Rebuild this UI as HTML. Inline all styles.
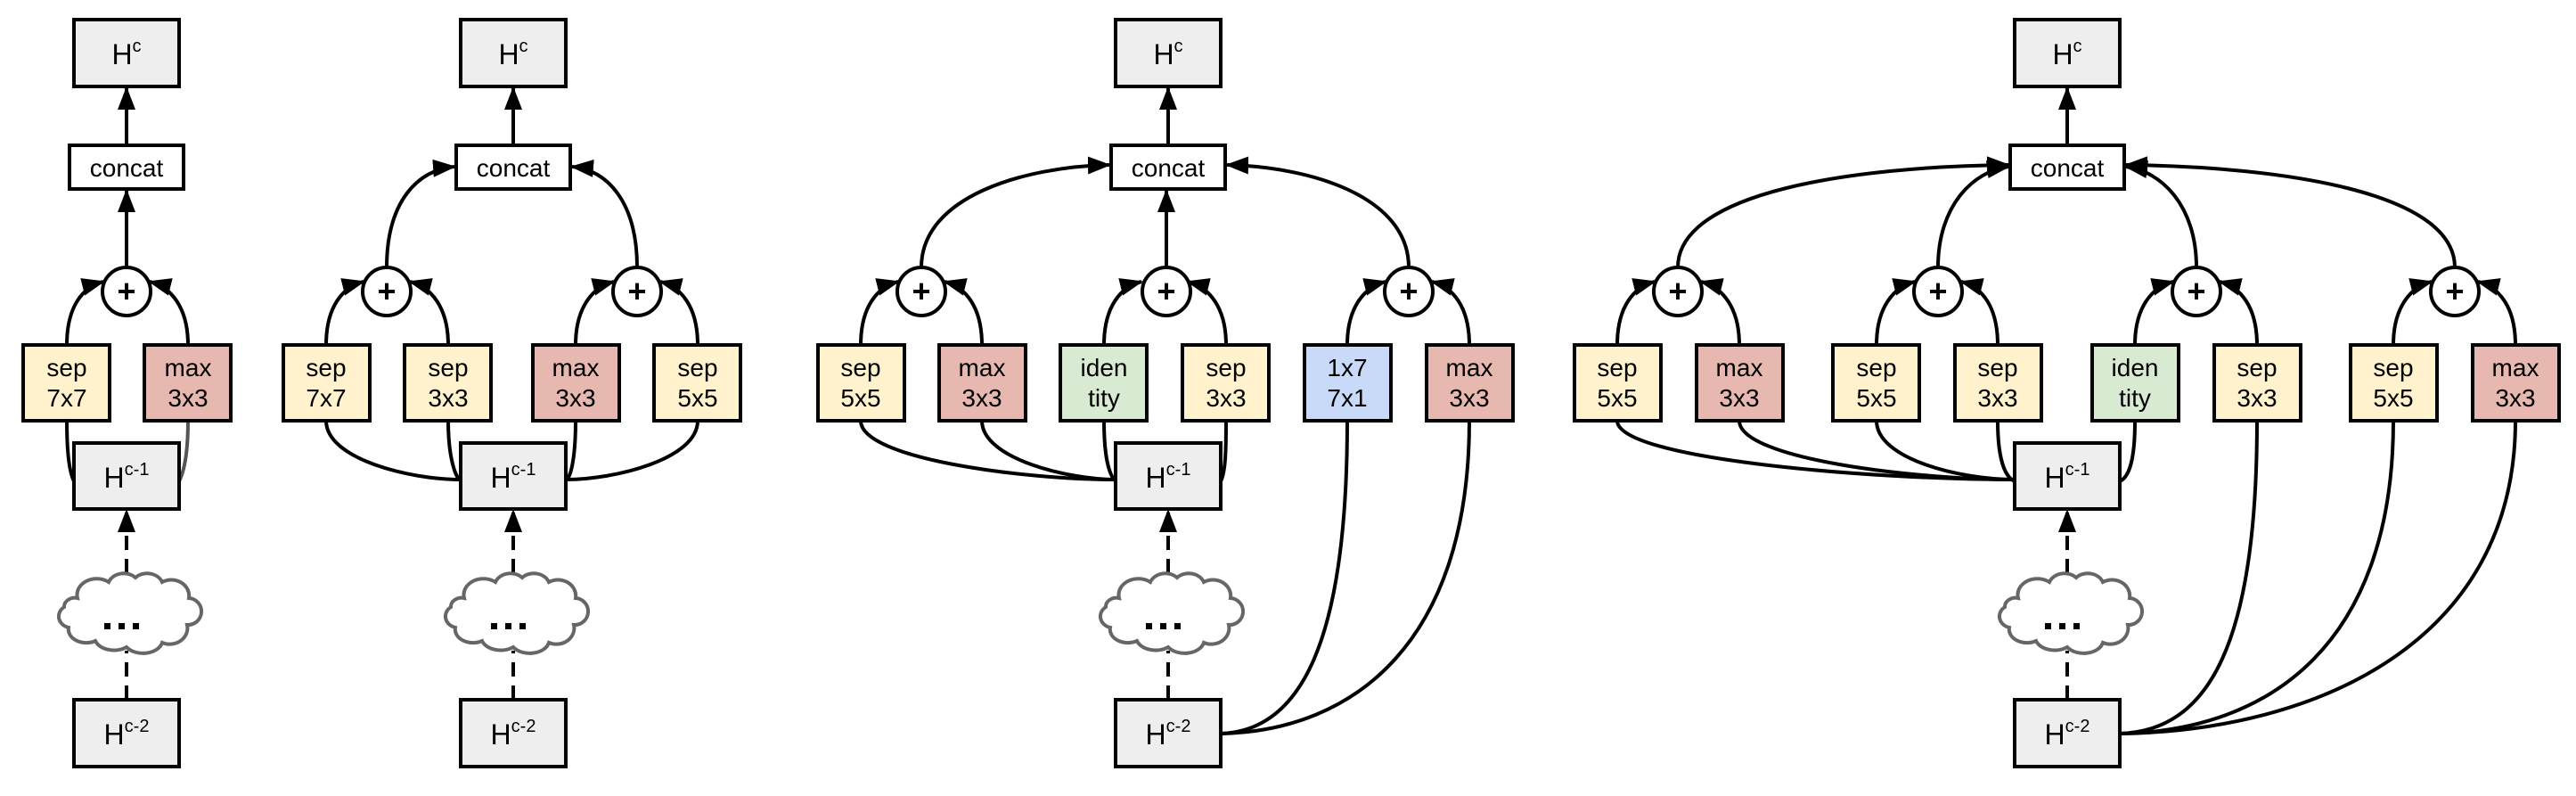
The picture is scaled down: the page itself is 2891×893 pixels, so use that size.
<!DOCTYPE html>
<html><head><meta charset="utf-8"><style>
html,body{margin:0;padding:0;background:#fff;}
svg{display:block;}
text{font-family:"Liberation Sans",Arial,sans-serif;fill:#000;}
</style></head><body>
<svg width="2891" height="893" viewBox="0 0 2891 893" xmlns="http://www.w3.org/2000/svg">
<defs>
<marker id="a" markerWidth="26" markerHeight="20" refX="24" refY="10" orient="auto" markerUnits="userSpaceOnUse"><path d="M0,0 L26,10 L0,20 z" fill="#000"/></marker>
<g id="cloud"><path d="M-55,-15 A22,18 0 0 1 -20,-33 A18,15 0 0 1 10,-38 A18,15 0 0 1 40,-33 A20,18 0 0 1 70,-15 A15,15 0 0 1 68,15 A20,18 0 0 1 40,35 A22,15 0 0 1 0,40 A22,15 0 0 1 -35,33 A20,15 0 0 1 -65,18 A15,13 0 0 1 -70,-5 A12,10 0 0 1 -55,-15 Z" fill="#fff" stroke="#666" stroke-width="4"/>
<rect x="-25" y="13" width="7" height="7" fill="#000"/><rect x="-9" y="13" width="7" height="7" fill="#000"/><rect x="7" y="13" width="7" height="7" fill="#000"/></g>
</defs>

<g fill="none" stroke="#000" stroke-width="4">
<!-- Panel 1 -->
<path d="M142,163 L142,99" marker-end="url(#a)"/>
<path d="M142,300 L142,214" marker-end="url(#a)"/>
<path d="M75,387 C75,345 92,322 116,316" marker-end="url(#a)"/>
<path d="M211,387 C211,345 192,322 168,316" marker-end="url(#a)"/>
<path d="M75,472 C75,510 78,530 83,540"/>
<path d="M211,472 C211,510 206,530 201,540" stroke="#555"/>
<path d="M142,785 L142,730" stroke-dasharray="16,10"/>
<path d="M142,643 L142,573" stroke-dasharray="16,10" marker-end="url(#a)"/>

<!-- Panel 2 -->
<path d="M576,163 L576,99" marker-end="url(#a)"/>
<path d="M434,300 C434,225 470,190 510,187" marker-end="url(#a)"/>
<path d="M715,300 C715,225 680,190 642,187" marker-end="url(#a)"/>
<path d="M366,387 C366,345 384,322 408,316" marker-end="url(#a)"/>
<path d="M503,387 C503,345 484,322 460,316" marker-end="url(#a)"/>
<path d="M646,387 C646,345 665,322 689,316" marker-end="url(#a)"/>
<path d="M783,387 C783,345 765,322 741,316" marker-end="url(#a)"/>
<path d="M366,472 C366,515 460,538 517,538"/>
<path d="M503,472 C503,515 512,538 517,538"/>
<path d="M646,472 C646,515 640,538 635,538"/>
<path d="M783,472 C783,515 690,538 635,538"/>
<path d="M576,785 L576,730" stroke-dasharray="16,10"/>
<path d="M576,643 L576,573" stroke-dasharray="16,10" marker-end="url(#a)"/>

<!-- Panel 3 -->
<path d="M1311,163 L1311,99" marker-end="url(#a)"/>
<path d="M1309,300 L1309,214" marker-end="url(#a)"/>
<path d="M1034,300 C1034,220 1150,187 1245,185" marker-end="url(#a)"/>
<path d="M1581,300 C1581,220 1470,187 1377,185" marker-end="url(#a)"/>
<path d="M966,387 C966,345 984,322 1008,316" marker-end="url(#a)"/>
<path d="M1102,387 C1102,345 1084,322 1060,316" marker-end="url(#a)"/>
<path d="M1239,387 C1239,345 1257,322 1281,316" marker-end="url(#a)"/>
<path d="M1376,387 C1376,345 1357,322 1333,316" marker-end="url(#a)"/>
<path d="M1512,387 C1512,345 1531,322 1555,316" marker-end="url(#a)"/>
<path d="M1649,387 C1649,345 1631,322 1607,316" marker-end="url(#a)"/>
<path d="M966,472 C966,515 1150,538 1252,538"/>
<path d="M1102,472 C1102,515 1200,538 1252,538"/>
<path d="M1239,472 C1239,510 1244,532 1252,540"/>
<path d="M1376,472 C1376,510 1375,530 1370,540"/>
<path d="M1512,472 C1512,720 1460,820 1370,823"/>
<path d="M1649,472 C1649,720 1520,820 1370,823"/>
<path d="M1311,785 L1311,730" stroke-dasharray="16,10"/>
<path d="M1311,643 L1311,573" stroke-dasharray="16,10" marker-end="url(#a)"/>

<!-- Panel 4 -->
<path d="M2320,163 L2320,99" marker-end="url(#a)"/>
<path d="M1883,300 C1883,215 2080,187 2254,185" marker-end="url(#a)"/>
<path d="M2175,300 C2175,230 2215,192 2254,187" marker-end="url(#a)"/>
<path d="M2465,300 C2465,230 2425,192 2386,187" marker-end="url(#a)"/>
<path d="M2755,300 C2755,215 2560,187 2386,185" marker-end="url(#a)"/>
<path d="M1815,387 C1815,345 1833,322 1857,316" marker-end="url(#a)"/>
<path d="M1952,387 C1952,345 1933,322 1909,316" marker-end="url(#a)"/>
<path d="M2106,387 C2106,345 2125,322 2149,316" marker-end="url(#a)"/>
<path d="M2242,387 C2242,345 2225,322 2201,316" marker-end="url(#a)"/>
<path d="M2396,387 C2396,345 2415,322 2439,316" marker-end="url(#a)"/>
<path d="M2533,387 C2533,345 2515,322 2491,316" marker-end="url(#a)"/>
<path d="M2686,387 C2686,345 2705,322 2729,316" marker-end="url(#a)"/>
<path d="M2823,387 C2823,345 2805,322 2781,316" marker-end="url(#a)"/>
<path d="M1815,472 C1815,515 2100,538 2261,538"/>
<path d="M1952,472 C1952,515 2150,538 2261,538"/>
<path d="M2106,472 C2106,515 2200,538 2261,538"/>
<path d="M2242,472 C2242,515 2250,535 2261,540"/>
<path d="M2396,472 C2396,515 2390,535 2379,540"/>
<path d="M2533,472 C2533,720 2480,820 2379,823"/>
<path d="M2686,472 C2686,720 2550,820 2379,823"/>
<path d="M2823,472 C2823,720 2600,820 2379,823"/>
<path d="M2320,785 L2320,730" stroke-dasharray="16,10"/>
<path d="M2320,643 L2320,573" stroke-dasharray="16,10" marker-end="url(#a)"/>
</g>

<!-- clouds -->
<use href="#cloud" transform="translate(142,686)"/>
<use href="#cloud" transform="translate(576,686)"/>
<use href="#cloud" transform="translate(1311,686)"/>
<use href="#cloud" transform="translate(2320,686)"/>

<!-- plus circles -->
<g stroke="#000" stroke-width="4" fill="#fff">
<circle cx="142" cy="327" r="27"/>
<circle cx="434" cy="327" r="27"/><circle cx="715" cy="327" r="27"/>
<circle cx="1034" cy="327" r="27"/><circle cx="1309" cy="327" r="27"/><circle cx="1581" cy="327" r="27"/>
<circle cx="1883" cy="327" r="27"/><circle cx="2175" cy="327" r="27"/><circle cx="2465" cy="327" r="27"/><circle cx="2755" cy="327" r="27"/>
</g>
<g font-size="36" text-anchor="middle" font-weight="bold">
<text x="142" y="339">+</text>
<text x="434" y="339">+</text><text x="715" y="339">+</text>
<text x="1034" y="339">+</text><text x="1309" y="339">+</text><text x="1581" y="339">+</text>
<text x="1883" y="339">+</text><text x="2175" y="339">+</text><text x="2465" y="339">+</text><text x="2755" y="339">+</text>
</g>

<!-- H boxes and concat -->
<g stroke="#000" stroke-width="4">
<rect x="83" y="22" width="118" height="75" fill="#eeeeee"/>
<rect x="78" y="163" width="128" height="49" fill="#fff"/>
<rect x="83" y="497" width="118" height="74" fill="#eeeeee"/>
<rect x="83" y="785" width="118" height="75" fill="#eeeeee"/>
<rect x="517" y="22" width="118" height="75" fill="#eeeeee"/>
<rect x="512" y="163" width="128" height="49" fill="#fff"/>
<rect x="517" y="497" width="118" height="74" fill="#eeeeee"/>
<rect x="517" y="785" width="118" height="75" fill="#eeeeee"/>
<rect x="1252" y="22" width="118" height="75" fill="#eeeeee"/>
<rect x="1247" y="163" width="128" height="49" fill="#fff"/>
<rect x="1252" y="497" width="118" height="74" fill="#eeeeee"/>
<rect x="1252" y="785" width="118" height="75" fill="#eeeeee"/>
<rect x="2261" y="22" width="118" height="75" fill="#eeeeee"/>
<rect x="2256" y="163" width="128" height="49" fill="#fff"/>
<rect x="2261" y="497" width="118" height="74" fill="#eeeeee"/>
<rect x="2261" y="785" width="118" height="75" fill="#eeeeee"/>
</g>
<g font-size="32" text-anchor="middle">
<text x="142" y="72">H<tspan font-size="20" dy="-14">c</tspan></text>
<text x="142" y="547">H<tspan font-size="20" dy="-14">c-1</tspan></text>
<text x="142" y="835">H<tspan font-size="20" dy="-14">c-2</tspan></text>
<text x="576" y="72">H<tspan font-size="20" dy="-14">c</tspan></text>
<text x="576" y="547">H<tspan font-size="20" dy="-14">c-1</tspan></text>
<text x="576" y="835">H<tspan font-size="20" dy="-14">c-2</tspan></text>
<text x="1311" y="72">H<tspan font-size="20" dy="-14">c</tspan></text>
<text x="1311" y="547">H<tspan font-size="20" dy="-14">c-1</tspan></text>
<text x="1311" y="835">H<tspan font-size="20" dy="-14">c-2</tspan></text>
<text x="2320" y="72">H<tspan font-size="20" dy="-14">c</tspan></text>
<text x="2320" y="547">H<tspan font-size="20" dy="-14">c-1</tspan></text>
<text x="2320" y="835">H<tspan font-size="20" dy="-14">c-2</tspan></text>
</g>
<g font-size="28" text-anchor="middle">
<text x="142" y="198">concat</text>
<text x="576" y="198">concat</text>
<text x="1311" y="198">concat</text>
<text x="2320" y="198">concat</text>
</g>

<!-- op boxes -->
<g stroke="#000" stroke-width="4">
<rect x="26" y="387" width="97" height="85" fill="#fff2cc"/>
<rect x="162" y="387" width="97" height="85" fill="#e6b8af"/>
<rect x="318" y="387" width="97" height="85" fill="#fff2cc"/>
<rect x="454" y="387" width="97" height="85" fill="#fff2cc"/>
<rect x="598" y="387" width="97" height="85" fill="#e6b8af"/>
<rect x="734" y="387" width="97" height="85" fill="#fff2cc"/>
<rect x="918" y="387" width="97" height="85" fill="#fff2cc"/>
<rect x="1054" y="387" width="97" height="85" fill="#e6b8af"/>
<rect x="1190" y="387" width="97" height="85" fill="#d9ead3"/>
<rect x="1327" y="387" width="97" height="85" fill="#fff2cc"/>
<rect x="1464" y="387" width="97" height="85" fill="#c9daf8"/>
<rect x="1601" y="387" width="97" height="85" fill="#e6b8af"/>
<rect x="1767" y="387" width="97" height="85" fill="#fff2cc"/>
<rect x="1904" y="387" width="97" height="85" fill="#e6b8af"/>
<rect x="2057" y="387" width="97" height="85" fill="#fff2cc"/>
<rect x="2194" y="387" width="97" height="85" fill="#fff2cc"/>
<rect x="2348" y="387" width="97" height="85" fill="#d9ead3"/>
<rect x="2485" y="387" width="97" height="85" fill="#fff2cc"/>
<rect x="2638" y="387" width="97" height="85" fill="#fff2cc"/>
<rect x="2775" y="387" width="97" height="85" fill="#e6b8af"/>
</g>
<g font-size="28" text-anchor="middle">
<text x="75" y="422">sep</text><text x="75" y="456">7x7</text>
<text x="211" y="422">max</text><text x="211" y="456">3x3</text>
<text x="366" y="422">sep</text><text x="366" y="456">7x7</text>
<text x="503" y="422">sep</text><text x="503" y="456">3x3</text>
<text x="646" y="422">max</text><text x="646" y="456">3x3</text>
<text x="783" y="422">sep</text><text x="783" y="456">5x5</text>
<text x="966" y="422">sep</text><text x="966" y="456">5x5</text>
<text x="1102" y="422">max</text><text x="1102" y="456">3x3</text>
<text x="1239" y="422">iden</text><text x="1239" y="456">tity</text>
<text x="1376" y="422">sep</text><text x="1376" y="456">3x3</text>
<text x="1512" y="422">1x7</text><text x="1512" y="456">7x1</text>
<text x="1649" y="422">max</text><text x="1649" y="456">3x3</text>
<text x="1815" y="422">sep</text><text x="1815" y="456">5x5</text>
<text x="1952" y="422">max</text><text x="1952" y="456">3x3</text>
<text x="2106" y="422">sep</text><text x="2106" y="456">5x5</text>
<text x="2242" y="422">sep</text><text x="2242" y="456">3x3</text>
<text x="2396" y="422">iden</text><text x="2396" y="456">tity</text>
<text x="2533" y="422">sep</text><text x="2533" y="456">3x3</text>
<text x="2686" y="422">sep</text><text x="2686" y="456">5x5</text>
<text x="2823" y="422">max</text><text x="2823" y="456">3x3</text>
</g>
</svg>
</body></html>
